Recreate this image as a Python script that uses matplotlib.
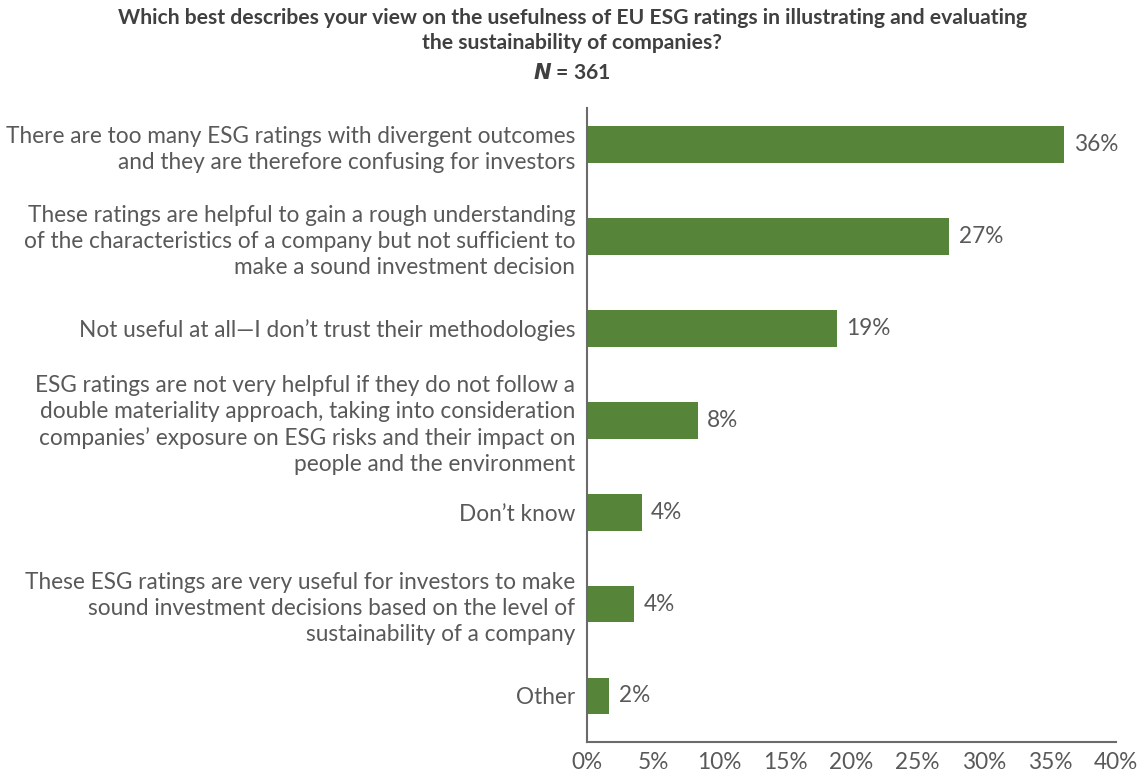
import matplotlib
matplotlib.use("Agg")
import matplotlib.pyplot as plt
from matplotlib.ticker import FuncFormatter

categories = [
    "There are too many ESG ratings with divergent outcomes\nand they are therefore confusing for investors",
    "These ratings are helpful to gain a rough understanding\nof the characteristics of a company but not sufficient to\nmake a sound investment decision",
    "Not useful at all\u2014I don\u2019t trust their methodologies",
    "ESG ratings are not very helpful if they do not follow a\ndouble materiality approach, taking into consideration\ncompanies\u2019 exposure on ESG risks and their impact on\npeople and the environment",
    "Don\u2019t know",
    "These ESG ratings are very useful for investors to make\nsound investment decisions based on the level of\nsustainability of a company",
    "Other",
]
values = [36.1, 27.4, 18.9, 8.4, 4.15, 3.6, 1.7]
value_labels = ["36%", "27%", "19%", "8%", "4%", "4%", "2%"]
x_ticks = [0, 5, 10, 15, 20, 25, 30, 35, 40]

title_lines = ["Which best describes your view on the usefulness of EU ESG ratings in illustrating and evaluating",
               "the sustainability of companies?"]

plt.rcParams['font.family'] = ['Lato', 'DejaVu Sans']
TXT = "#595959"
GREEN = "#56853A"
FS = 16.3

fig = plt.figure(figsize=(11.44, 7.72), dpi=100)
ax = fig.add_axes([0.513, 0.039, 0.4625, 0.821])

y = list(range(len(categories)))
ax.barh(y, values, height=0.4, color=GREEN)
for yi, v, lab in zip(y, values, value_labels):
    ax.text(v + 0.7, yi, lab, va="center", ha="left", fontsize=FS, color=TXT)

ax.set_ylim(6.5, -0.4)
ax.set_xlim(0, 40)
ax.set_xticks(x_ticks)
ax.xaxis.set_major_formatter(FuncFormatter(lambda v, p: f"{int(v)}%"))
ax.set_yticks(y)
ax.set_yticklabels(categories, fontsize=FS, color=TXT, linespacing=1.3)
ax.tick_params(axis="x", length=0, labelsize=FS, labelcolor=TXT, pad=7)
ax.tick_params(axis="y", length=0, pad=8.5)
for s in ["top", "right"]:
    ax.spines[s].set_visible(False)
for s in ["left", "bottom"]:
    ax.spines[s].set_color("#6b6b6b")
    ax.spines[s].set_linewidth(1.5)

fig.text(0.5, 1 - 18 / 772, title_lines[0], ha="center", va="center", fontsize=15.2,
         fontweight="bold", color="#404040")
fig.text(0.5, 1 - 43 / 772, title_lines[1], ha="center", va="center", fontsize=15.2,
         fontweight="bold", color="#404040")
fig.text(0.5, 1 - 73 / 772, r"$\mathbfit{N}$ = 361", ha="center", va="center", fontsize=15.2,
         fontweight="bold", color="#404040")

fig.savefig("out.png", dpi=100)
